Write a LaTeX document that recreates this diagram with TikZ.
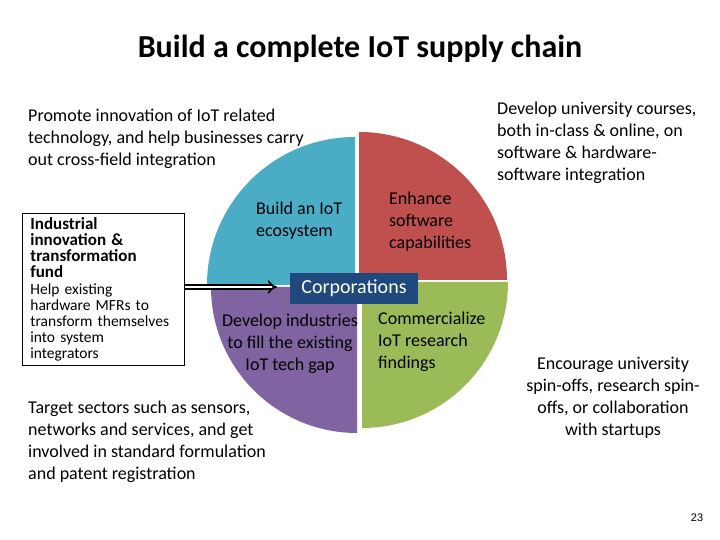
\documentclass[tikz,border=0pt]{standalone}
\usepackage{fontspec}
\setmainfont{Carlito}
\newfontfamily\pagefont{Liberation Sans}
\usetikzlibrary{arrows.meta}
\definecolor{qblue}{HTML}{4BACC6}
\definecolor{qred}{HTML}{C0504D}
\definecolor{qgreen}{HTML}{9BBB59}
\definecolor{qpurple}{HTML}{8064A2}
\definecolor{corp}{HTML}{1F497D}
\begin{document}
\begin{tikzpicture}[x=1pt,y=1pt,
  txt/.style={font=\fontsize{18}{21.7}\selectfont, align=left, inner sep=0pt, text=black},
  qtxt/.style={font=\fontsize{18}{21.7}\selectfont, inner sep=0pt, text=black},
  fundbox/.style={draw=black, line width=0.8pt, align=left, anchor=north west,
    font=\fontsize{15.5}{16}\selectfont,
    minimum width=160, minimum height=152, text width=146, inner xsep=8, inner ysep=0},
  fundhead/.style={},
  bigarrow/.style={double, double distance=2.6pt, line width=1.8pt, -{Implies}},
  corpbox/.style={fill=corp, text=white, minimum width=128, minimum height=31, inner sep=0pt,
    font=\fontsize{20}{24}\selectfont}
]
\useasboundingbox (0,0) rectangle (720,540);
\fill[white] (0,0) rectangle (720,540);

% title
\node[font=\fontsize{32}{38}\selectfont\bfseries, anchor=base, inner sep=0pt] (title) at (360,482) {Build a complete IoT supply chain};

% pie quadrants
\fill[qblue] (355,255) -- (355,403) arc[start angle=90, end angle=180, radius=148] -- cycle;
\fill[qred] (359,260) -- (507,260) arc[start angle=0, end angle=90, radius=148] -- cycle;
\fill[qgreen] (362,258) -- (362,112) arc[start angle=270, end angle=360, radius=146] -- cycle;
\fill[qpurple] (357,253) -- (211,253) arc[start angle=180, end angle=270, radius=146] -- cycle;

% quadrant texts (base anchor = last line baseline)
\node[qtxt, align=left, anchor=base west] (eco) at (256,303.3) {Build an IoT\\ecosystem};
\node[qtxt, align=left, anchor=base west] (soft) at (389,291.6) {Enhance\\software\\capabilities};
\node[qtxt, align=center, anchor=base] (gap) at (290,169.6) {Develop industries\\to fill the existing\\IoT tech gap};
\node[qtxt, align=left, anchor=base west] (comm) at (378,171.6) {Commercialize\\IoT research\\findings};

% corporations
\node[corpbox] (corp) at (354,251.5) {Corporations};

% side texts
\node[txt, anchor=base west] (promote) at (28,374.6) {Promote innovation of IoT related\\technology, and help businesses carry\\out cross-field integration};
\node[txt, anchor=base west] (courses) at (497,359.9) {Develop university courses,\\both in-class \& online, on\\software \& hardware-\\software integration};
\node[txt, anchor=base west] (target) at (28,60.9) {Target sectors such as sensors,\\networks and services, and get\\involved in standard formulation\\and patent registration};
\node[txt, align=center, anchor=base] (spin) at (613,104.9) {Encourage university\\spin-offs, research spin-\\offs, or collaboration\\with startups};

% fund box
\node[fundbox] (fund) at (22,327) {%
  \textbf{\fontsize{17}{16}\selectfont Industrial}\\
  \textbf{\fontsize{17}{16}\selectfont innovation \&}\\
  \textbf{\fontsize{17}{16}\selectfont transformation}\\
  \textbf{\fontsize{17}{16}\selectfont fund}\\[1pt]
  Help existing\\hardware MFRs to\\transform themselves\\into system\\integrators};

% arrow
\coordinate (arrowend) at (277,253);
\draw[bigarrow] (fund.east |- arrowend) -- (arrowend);

% page number
\node[font=\pagefont\fontsize{11}{13}\selectfont, anchor=base, inner sep=0pt] (page) at (697,18) {23};
\end{tikzpicture}
\end{document}
